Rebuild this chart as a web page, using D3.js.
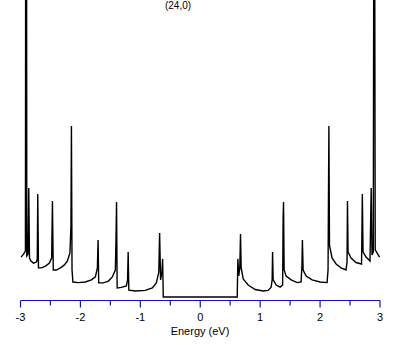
<!DOCTYPE html>
<html lang="en">
<head>
    <meta charset="UTF-8">
    <title>(24,0) DOS</title>
    <script src="https://d3js.org/d3.v7.min.js"></script>
    <style>
        body { margin: 0; background: #fff; }
        text { font-family: "Liberation Sans", Arial, sans-serif; }
    </style>
</head>
<body>

<div id="chart"></div>

<script>
// tube label
const tubeLabel = "(24,0)";

// energy (eV) and DOS (arb. units), left to right
const energy = [
    -2.99, -2.95, -2.918, -2.913, -2.899, -2.895, -2.875, -2.862, -2.85, -2.825,
    -2.783, -2.733, -2.72, -2.712, -2.70, -2.65, -2.583, -2.517, -2.48, -2.467,
    -2.453, -2.40, -2.333, -2.267, -2.217, -2.175, -2.158, -2.15, -2.14, -2.125,
    -2.033, -1.917, -1.817, -1.75, -1.717, -1.705, -1.695, -1.617, -1.533, -1.467,
    -1.417, -1.407, -1.397, -1.387, -1.317, -1.233, -1.213, -1.203, -1.192, -1.083,
    -0.917, -0.80, -0.733, -0.692, -0.678, -0.662, -0.64, -0.628, -0.617,
    0.617, 0.628, 0.643, 0.66, 0.672, 0.683, 0.717, 0.80, 0.917, 1.05,
    1.133, 1.183, 1.20, 1.207, 1.217, 1.267, 1.333, 1.375, 1.383, 1.39,
    1.40, 1.433, 1.517, 1.617, 1.683, 1.697, 1.705, 1.717, 1.767, 1.867,
    2.0, 2.117, 2.133, 2.138, 2.147, 2.157, 2.20, 2.267, 2.35, 2.433,
    2.45, 2.457, 2.467, 2.517, 2.60, 2.692, 2.705, 2.717, 2.767, 2.833,
    2.853, 2.867, 2.888, 2.897, 2.91, 2.92, 2.95, 2.992
];
const dos = [
    14.3, 15.3, 16.3, 140, 140, 14.7, 15.3, 37.3, 14, 13,
    12.3, 12.7, 13.7, 35.3, 10.7, 10.7, 11.3, 12.3, 14, 33,
    10, 10, 10.7, 11.7, 13, 15.7, 24.7, 58, 10, 6,
    5.8, 6, 6.7, 7.7, 10.7, 20, 5.7, 5.7, 6.3, 7.7,
    10, 19.3, 32.7, 4, 4.2, 4.7, 6.7, 16, 3.3, 3,
    3.2, 4, 5.7, 9.3, 22.3, 6.7, 9.3, 13.7, 1,
    1, 13.7, 8, 10.7, 22, 10.7, 7, 5, 3.5, 3,
    3.2, 4.3, 6.7, 16, 6.7, 5, 4.3, 5, 27.3, 32.7,
    10, 8, 6.7, 5.8, 6, 11.3, 20, 10, 8, 6.7,
    6, 5.8, 10, 27.3, 58, 18.3, 14, 12, 10.7, 10,
    12.7, 33, 16, 14, 12.5, 12, 35.3, 16, 14.3, 13,
    37.3, 15, 16, 140, 140, 16.7, 15.7, 14.3
];

// axis ticks
const majorTicks = [-3, -2, -1, 0, 1, 2, 3];
const minorTicks = [-2.5, -1.5, -0.5, 0.5, 1.5, 2.5];

const W = 409, H = 345;
const axisY = 300.5;

const svg = d3.select("#chart")
    .append("svg")
    .attr("width", W)
    .attr("height", H);

svg.append("rect").attr("width", W).attr("height", H).attr("fill", "#fff");

const x = d3.scaleLinear().domain([-3, 3]).range([20.5, 380]);
const y = d3.scaleLinear().domain([0, 100]).range([300, 0]);

svg.append("clipPath").attr("id", "clip")
    .append("rect").attr("x", 0).attr("y", 0).attr("width", W).attr("height", axisY);

const pts = energy.map((e, i) => [e, dos[i]]);

svg.append("path")
    .datum(pts)
    .attr("clip-path", "url(#clip)")
    .attr("fill", "none")
    .attr("stroke", "#000")
    .attr("stroke-width", 1.4)
    .attr("stroke-linejoin", "miter")
    .attr("d", d3.line().x(d => x(d[0])).y(d => y(d[1])));

// title
svg.append("text")
    .attr("x", 178)
    .attr("y", 9)
    .attr("text-anchor", "middle")
    .attr("font-size", 10)
    .text(tubeLabel);

// x axis: blue line and ticks, black labels
const axisColor = "#1010c0";
const ax = svg.append("g").attr("transform", `translate(0,${axisY})`);

ax.append("line")
    .attr("x1", x(-3)).attr("x2", x(3))
    .attr("stroke", axisColor).attr("stroke-width", 1.2);

ax.selectAll("line.major")
    .data(majorTicks)
    .join("line")
    .attr("class", "major")
    .attr("x1", d => x(d)).attr("x2", d => x(d))
    .attr("y1", 0).attr("y2", 7)
    .attr("stroke", axisColor).attr("stroke-width", 1.2);

ax.selectAll("line.minor")
    .data(minorTicks)
    .join("line")
    .attr("class", "minor")
    .attr("x1", d => x(d)).attr("x2", d => x(d))
    .attr("y1", 0).attr("y2", 5)
    .attr("stroke", axisColor).attr("stroke-width", 1.2);

ax.selectAll("text.tick")
    .data(majorTicks)
    .join("text")
    .attr("class", "tick")
    .attr("x", d => x(d))
    .attr("y", 20)
    .attr("text-anchor", "middle")
    .attr("font-size", 11)
    .text(d => String(d));

svg.append("text")
    .attr("x", 200)
    .attr("y", 335)
    .attr("text-anchor", "middle")
    .attr("font-size", 11)
    .text("Energy (eV)");
</script>

</body>
</html>
